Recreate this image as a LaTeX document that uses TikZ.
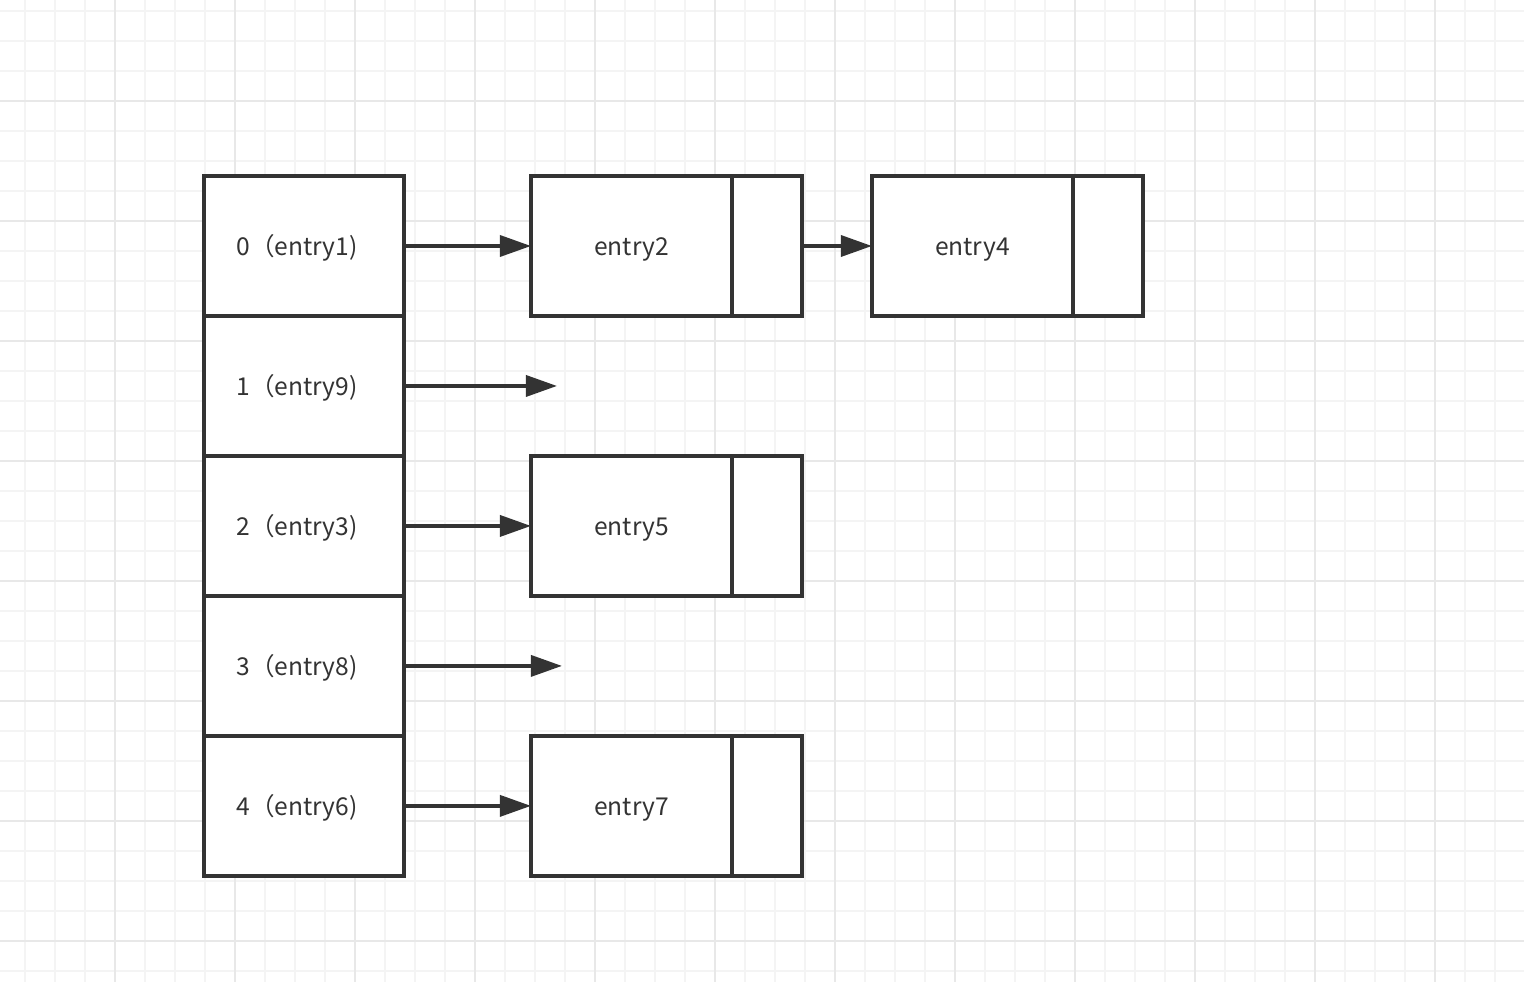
\documentclass[tikz,border=0pt]{standalone}
\usepackage{fontspec}
\setmainfont{Noto Sans CJK SC}
\usetikzlibrary{arrows.meta, positioning}
\definecolor{mydark}{RGB}{51,51,51}
\definecolor{gridminor}{RGB}{244,244,244}
\definecolor{gridmajor}{RGB}{232,232,232}
\tikzset{
  slot/.style={rectangle, draw=mydark, fill=white, text=mydark,
    minimum width=4cm, minimum height=2.8cm, inner sep=0pt, outer sep=0pt,
    text height=0.5cm, text depth=0.12cm,
    font=\fontsize{14}{16}\selectfont, line width=2pt},
  idxslot/.style={slot, execute at end node={\hspace{0.28cm}}},
  entrybox/.style={slot, minimum width=4.02cm},
  nextbox/.style={slot, minimum width=1.4cm},
  arrow/.style={-{Triangle[length=0.62cm, width=0.42cm]}, line width=2pt, color=mydark}
}

\begin{document}
\begin{tikzpicture}[x=0.02cm, y=-0.02cm]
  \useasboundingbox[fill=white] (0,0) rectangle (1524,982);
  % background grid
  \foreach \k in {0,...,49}
    \draw[gridminor, line width=0.04cm] ({25+30*\k},0) -- ({25+30*\k},982);
  \foreach \k in {0,...,32}
    \draw[gridminor, line width=0.04cm] (0,{10.7+30*\k}) -- (1524,{10.7+30*\k});
  \foreach \k in {0,...,11}
    \draw[gridmajor, line width=0.04cm] ({115+120*\k},0) -- ({115+120*\k},982);
  \foreach \k in {0,...,7}
    \draw[gridmajor, line width=0.04cm] (0,{100.7+120*\k}) -- (1524,{100.7+120*\k});

  % table slots
  \node[idxslot] (b0) at (304,246) {0（entry1)};
  \node[idxslot, below=0pt of b0] (b1) {1（entry9)};
  \node[idxslot, below=0pt of b1] (b2) {2（entry3)};
  \node[idxslot, below=0pt of b2] (b3) {3（entry8)};
  \node[idxslot, below=0pt of b3] (b4) {4（entry6)};

  % chained entries
  \node[entrybox, right=2.54cm of b0] (e2) {entry2};
  \node[nextbox, right=0pt of e2] (n2) {};
  \node[entrybox, right=1.4cm of n2] (e4) {entry4};
  \node[nextbox, right=0pt of e4] (n4) {};
  \node[entrybox, right=2.54cm of b2] (e5) {entry5};
  \node[nextbox, right=0pt of e5] (n5) {};
  \node[entrybox, right=2.54cm of b4] (e7) {entry7};
  \node[nextbox, right=0pt of e7] (n7) {};

  \coordinate (end1) at ([xshift=3.06cm]b1.east);
  \coordinate (end3) at ([xshift=3.16cm]b3.east);

  \draw[arrow] (b0) -- (e2);
  \draw[arrow] (n2) -- (e4);
  \draw[arrow] (b1.east) -- (end1);
  \draw[arrow] (b2) -- (e5);
  \draw[arrow] (b3.east) -- (end3);
  \draw[arrow] (b4) -- (e7);
\end{tikzpicture}
\end{document}
